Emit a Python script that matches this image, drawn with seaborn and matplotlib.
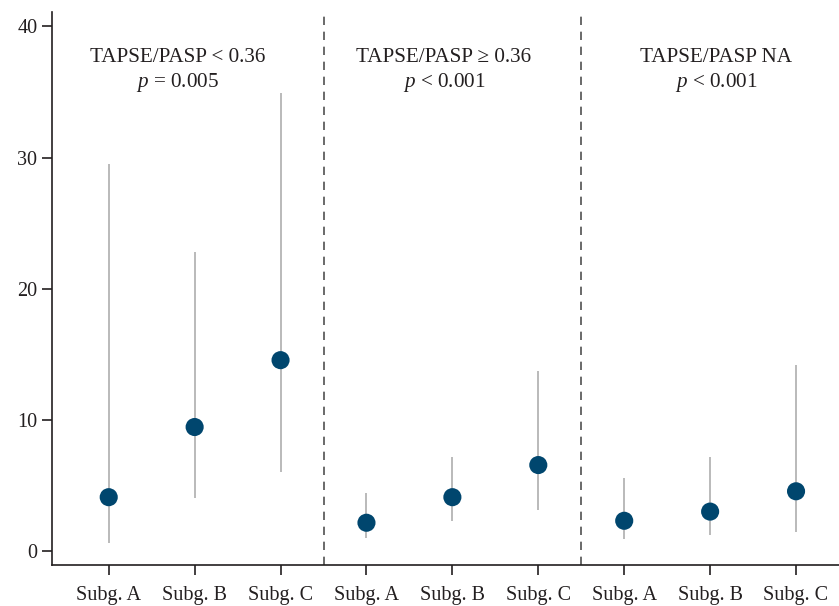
import numpy as np
import pandas as pd
import matplotlib
matplotlib.use("Agg")
import matplotlib.pyplot as plt
import matplotlib.transforms as mtransforms
import seaborn as sns

# ── data ──
groups = ["TAPSE/PASP < 0.36", "TAPSE/PASP \u2265 0.36", "TAPSE/PASP NA"]
p_labels = ["$p$ = 0.005", "$p$ < 0.001", "$p$ < 0.001"]
label_x = [0.8, 3.9, 7.07]  # where each group caption sits
subgroups = ["Subg. A", "Subg. B", "Subg. C"]

estimate = [4.1, 9.45, 14.55, 2.15, 4.1, 6.55, 2.3, 3.0, 4.55]
lower = [0.6, 4.0, 6.0, 1.0, 2.3, 3.1, 0.9, 1.2, 1.45]
upper = [29.5, 22.8, 34.9, 4.4, 7.2, 13.7, 5.6, 7.2, 14.2]

df = pd.DataFrame({
    "group": np.repeat(groups, len(subgroups)),
    "subgroup": subgroups * len(groups),
    "estimate": estimate,
    "lower": lower,
    "upper": upper,
})
df["pos"] = np.arange(len(df))

sns.set_style("ticks")
plt.rcParams["font.family"] = ["Liberation Serif", "DejaVu Serif"]
plt.rcParams["mathtext.fontset"] = "custom"
plt.rcParams["mathtext.rm"] = "Liberation Serif"
plt.rcParams["mathtext.it"] = "Liberation Serif:italic"

fig = plt.figure(figsize=(8.39, 6.06), dpi=100)
ax = fig.add_axes([0.062, 0.0677, 0.938, 0.9125])

# whiskers
ax.vlines(df["pos"], df["lower"], df["upper"], color="#b4b4b4", lw=1.3, zorder=1)
# points
sns.scatterplot(data=df, x="pos", y="estimate", ax=ax, s=170, color="#00466e",
                edgecolor="none", zorder=3, legend=False)

# dividers between groups
for k in range(1, len(groups)):
    ax.axvline(k * len(subgroups) - 0.5, color="#505050", lw=1.2,
               ls=(0, (5, 4)), zorder=0)

# group captions
trans = mtransforms.blended_transform_factory(ax.transData, ax.transAxes)
for g, pl, xc in zip(groups, p_labels, label_x):
    ax.text(xc, 0.918, g, transform=trans, ha="center", va="center", fontsize=15.2, color="#231f20")
    ax.text(xc, 0.873, pl, transform=trans, ha="center", va="center", fontsize=15.2, color="#231f20")

ax.set_xlim(-0.66, 8.5)
ax.set_ylim(-1.07, 41.1)
ax.set_xticks(df["pos"])
ax.set_xticklabels(df["subgroup"])
ax.set_yticks([0, 10, 20, 30, 40])
ax.set_xlabel("")
ax.set_ylabel("")
ax.tick_params(axis="both", labelsize=14.5, length=7, width=1.2, colors="#231f20")
ax.tick_params(axis="x", pad=8)
for side in ["left", "bottom"]:
    ax.spines[side].set_linewidth(1.2)
    ax.spines[side].set_color("#231f20")
sns.despine(ax=ax)

fig.savefig("out.png", dpi=100)
